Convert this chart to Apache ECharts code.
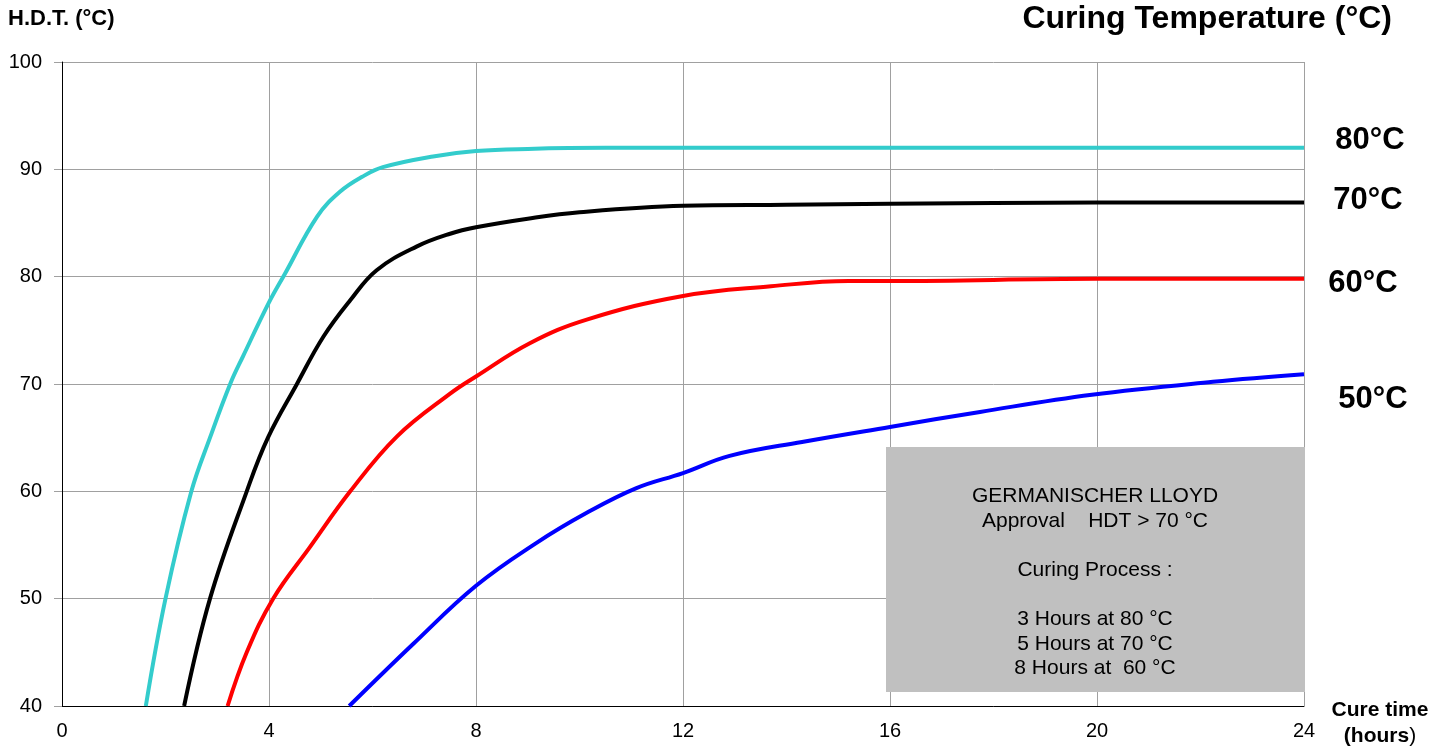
<!DOCTYPE html>
<html>
<head>
<meta charset="utf-8">
<script src="https://cdn.jsdelivr.net/npm/echarts@6/dist/echarts.min.js"></script>
<style>html,body{margin:0;padding:0;background:#fff;}#c{width:1451px;height:746px;}</style>
</head>
<body>
<div id="c"></div>
<script>
const xTicks = [0, 4, 8, 12, 16, 20, 24];
const yTicks = [40, 50, 60, 70, 80, 90, 100];
const seriesNames = ['80°C', '70°C', '60°C', '50°C'];
const cure80 = [[1.62,40],[2.0,50],[2.5,60],[2.86,65],[3.25,70],[3.5,72.6],[4.0,77.6],[4.3,80.2],[4.93,85.6],[5.37,87.9],[5.8,89.3],[6.2,90.2],[7.17,91.2],[8,91.7],[9,91.9],[10.5,92],[12,92],[16,92],[20,92],[24,92]];
const cure70 = [[2.36,40],[2.86,50],[3.57,60],[3.98,65],[4.54,70],[5.05,74.4],[5.57,77.8],[6.08,80.6],[6.85,82.8],[7.5,84.0],[8,84.6],[9,85.4],[10,86.0],[12,86.6],[14,86.7],[16,86.8],[20,86.9],[24,86.9]];
const cure60 = [[3.2,40],[3.57,45],[4.08,50],[4.79,54.8],[5.57,60],[6.47,65.1],[7.5,69.1],[8,70.7],[9.04,73.8],[10.14,76],[12,78.2],[13.7,79.1],[15.2,79.6],[16,79.6],[20,79.8],[24,79.8]];
const cure50 = [[5.55,40],[6.79,45.8],[8.0,51.2],[9.17,55.2],[10.14,58],[11.1,60.3],[12,61.7],[12.9,63.3],[14.3,64.6],[16,66],[17.74,67.4],[19.9,69.0],[22.24,70.2],[24,70.9]];
const boxLines = ['GERMANISCHER LLOYD', 'Approval    HDT > 70 °C', '', 'Curing Process :', '', '3 Hours at 80 °C', '5 Hours at 70 °C', '8 Hours at  60 °C'];

const FONT = '"Liberation Sans", Arial, sans-serif';
const chart = echarts.init(document.getElementById('c'), null, {renderer: 'canvas'});
const colors = ['#33cccc', '#000000', '#ff0000', '#0000ff'];
const datas = [cure80, cure70, cure60, cure50];
const labelPos = [[1370,140],[1368,200],[1363,283],[1373,399]];

const option = {
  backgroundColor: '#fff',
  animation: false,
  grid: {left: 62, right: 147, top: 62, bottom: 40},
  xAxis: {
    type: 'value', min: 0, max: 24, interval: 4,
    axisLine: {show: true, lineStyle: {color: '#000', width: 1}},
    axisTick: {show: false},
    axisLabel: {color: '#000', fontSize: 20, fontFamily: FONT, margin: 15,
      formatter: v => xTicks.includes(v) ? String(v) : ''},
    splitLine: {show: true, lineStyle: {color: '#a0a0a0', width: 1}}
  },
  yAxis: {
    type: 'value', min: 40, max: 100, interval: 10,
    axisLine: {show: true, lineStyle: {color: '#000', width: 1}},
    axisTick: {show: true, length: 8, lineStyle: {color: '#a0a0a0'}},
    axisLabel: {color: '#000', fontSize: 20, fontFamily: FONT, margin: 20,
      formatter: v => yTicks.includes(v) ? String(v) : ''},
    splitLine: {show: true, lineStyle: {color: '#a0a0a0', width: 1}}
  },
  series: datas.map((d, i) => ({
    name: seriesNames[i], type: 'line', data: d, smooth: 0.4,
    showSymbol: false, symbol: 'none',
    lineStyle: {color: colors[i], width: 4}, z: 3 + i
  })),
  graphic: [
    {type: 'text', left: 8, top: 8, style: {text: 'H.D.T. (°C)', font: 'bold 22px ' + FONT, fill: '#000'}},
    {type: 'text', right: 59, top: 3, style: {text: 'Curing Temperature (°C)', font: 'bold 32px ' + FONT, fill: '#000'}},
    {type: 'rect', shape: {x: 886, y: 447, width: 419, height: 245}, style: {fill: '#c0c0c0'}, z: 10},
    {type: 'text', x: 1095, y: 484, z: 11, style: {text: boxLines.join('\n'), font: '21px ' + FONT, fill: '#000', align: 'center', verticalAlign: 'top', lineHeight: 24.6}},
    ...seriesNames.map((n, i) => ({type: 'text', x: labelPos[i][0], y: labelPos[i][1], z: 12,
      style: {text: n, font: 'bold 31px ' + FONT, fill: '#000', align: 'center', verticalAlign: 'middle'}})),
    {type: 'text', x: 1380, y: 710, style: {text: 'Cure time', font: 'bold 21px ' + FONT, fill: '#000', align: 'center', verticalAlign: 'middle'}},
    {type: 'text', x: 1380, y: 736, style: {text: '{b|(hours}{n|)}', align: 'center', verticalAlign: 'middle',
      rich: {b: {font: 'bold 21px ' + FONT, fill: '#000'}, n: {font: '21px ' + FONT, fill: '#000'}}}}
  ]
};
chart.setOption(option);
</script>
</body>
</html>
